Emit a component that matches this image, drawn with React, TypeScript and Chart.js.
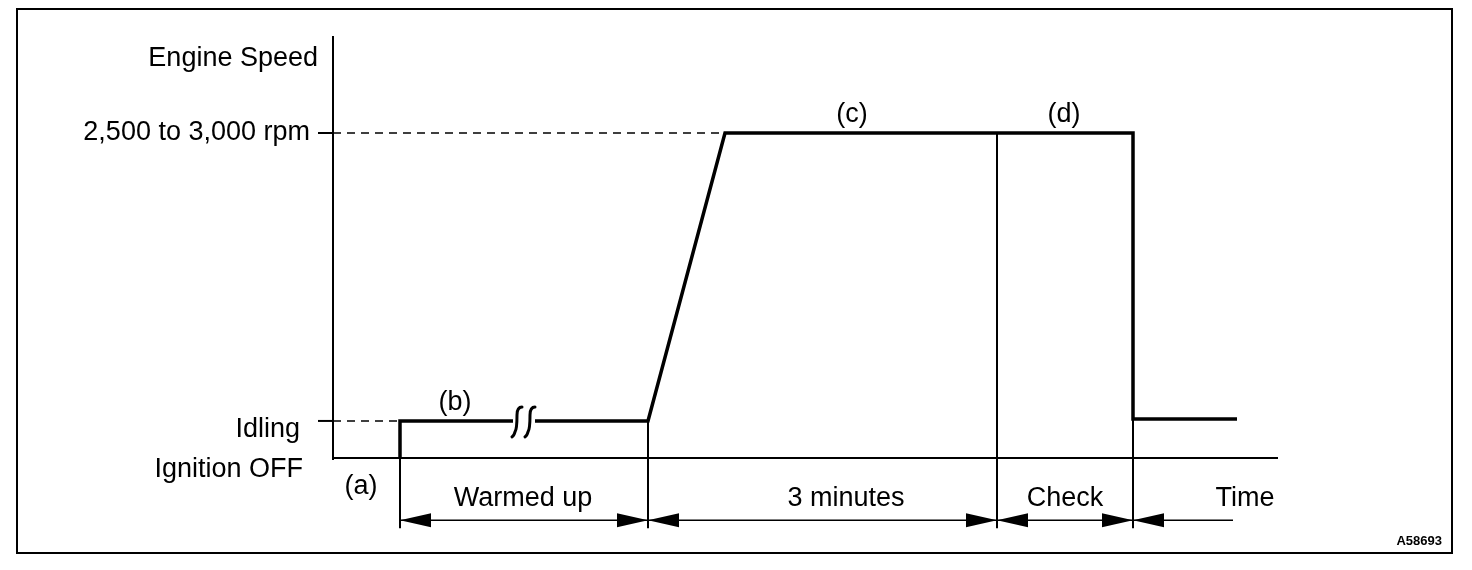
import React, { useEffect, useRef } from 'react';
import { Chart, registerables } from 'chart.js';
Chart.register(...registerables);

// Schematic time axis (arbitrary units) and engine-speed levels (schematic, not to scale)
const LEVEL_OFF = 0;        // Ignition OFF
const LEVEL_IDLE = 1;       // Idling
const LEVEL_HIGH = 8.78;    // 2,500 to 3,000 rpm
const LEVEL_TAIL = 1.05;    // return to idle after check
const AXIS_TOP = 11.4;
const AXIS_END = 94.5;
const DIM_LEVEL = -1.68;    // dimension line level
const EXT_BOTTOM = -1.9;    // bottom of extension lines

// Phase boundaries (time)
const T_IGNITION = 6.7;
const T_RAMP_START = 31.5;
const T_RAMP_END = 39.2;
const T_THREE_MIN_END = 66.4;
const T_CHECK_END = 80;
const T_TRACE_END = 90.4;
const T_DIM_END = 90;
const T_BREAK_START = 18.0;
const T_BREAK_END = 20.2;

// Engine speed trace
const traceTimes = [T_IGNITION, T_IGNITION, T_BREAK_START, T_BREAK_END, T_RAMP_START, T_RAMP_END, T_CHECK_END, T_CHECK_END, T_TRACE_END];
const traceSpeeds = [LEVEL_OFF, LEVEL_IDLE, LEVEL_IDLE, LEVEL_IDLE, LEVEL_IDLE, LEVEL_HIGH, LEVEL_HIGH, LEVEL_TAIL, LEVEL_TAIL];
const traceGapAfter = 2; // gap (break symbol) between index 2 and 3

// Extension lines (time, start level)
const extensionTimes = [T_IGNITION, T_RAMP_START, T_THREE_MIN_END, T_CHECK_END];
const extensionStarts = [LEVEL_OFF, LEVEL_IDLE, LEVEL_HIGH, LEVEL_TAIL];

// Dimension arrows: tip time, direction (-1 = points left, 1 = points right)
const arrowTimes = [T_IGNITION, T_RAMP_START, T_RAMP_START, T_THREE_MIN_END, T_THREE_MIN_END, T_CHECK_END, T_CHECK_END];
const arrowDirs = [-1, 1, -1, 1, -1, 1, -1];

// Period labels
const periodLabels = ['Warmed up', '3 minutes', 'Check', 'Time'];
const periodLabelTimes = [19.0, 51.3, 73.2, 91.2];

// Point labels
const pointLabels = ['(a)', '(b)', '(c)', '(d)'];
const pointLabelTimes = [2.8, 12.2, 51.9, 73.1];
const pointLabelLevels = [-0.78, 1.49, 9.27, 9.27];

// Y-axis labels
const axisLabels = ['Engine Speed', '2,500 to 3,000 rpm', 'Idling', 'Ignition OFF'];
const axisLabelLevels = [10.79, LEVEL_HIGH, 0.77, -0.3];
const axisLabelGaps = [15, 23, 33, 30];

const figureId = 'A58693';

const FONT = '27px "Liberation Sans", Arial, sans-serif';

function buildTrace() {
  const pts: any[] = [];
  traceTimes.forEach((t, i) => {
    pts.push({ x: t, y: traceSpeeds[i] });
    if (i === traceGapAfter) pts.push({ x: (T_BREAK_START + T_BREAK_END) / 2, y: null });
  });
  return pts;
}

const drawPlugin = {
  id: 'diagram',
  afterDatasetsDraw(chart: any) {
    const ctx = chart.ctx;
    const xs = chart.scales.x;
    const ys = chart.scales.y;
    const px = (v: number) => xs.getPixelForValue(v);
    const py = (v: number) => ys.getPixelForValue(v);
    ctx.save();
    ctx.strokeStyle = '#000';
    ctx.fillStyle = '#000';

    // outer frame
    ctx.lineWidth = 2;
    ctx.strokeRect(17, 9, 1435, 544);

    // y axis
    const x0 = px(0);
    ctx.lineWidth = 2;
    ctx.beginPath();
    ctx.moveTo(x0, py(AXIS_TOP));
    ctx.lineTo(x0, py(LEVEL_OFF) + 2);
    ctx.stroke();
    // baseline
    ctx.beginPath();
    ctx.moveTo(x0, py(LEVEL_OFF));
    ctx.lineTo(px(AXIS_END), py(LEVEL_OFF));
    ctx.stroke();

    // tick marks
    [LEVEL_HIGH, LEVEL_IDLE].forEach((lv) => {
      ctx.beginPath();
      ctx.moveTo(x0 - 15, py(lv));
      ctx.lineTo(x0, py(lv));
      ctx.stroke();
    });

    // dashed reference lines
    ctx.setLineDash([8, 6]);
    ctx.lineWidth = 1.5;
    ctx.beginPath();
    ctx.moveTo(x0, py(LEVEL_HIGH));
    ctx.lineTo(px(T_RAMP_END), py(LEVEL_HIGH));
    ctx.moveTo(x0, py(LEVEL_IDLE));
    ctx.lineTo(px(T_IGNITION), py(LEVEL_IDLE));
    ctx.stroke();
    ctx.setLineDash([]);

    // extension lines
    ctx.lineWidth = 2;
    extensionTimes.forEach((t, i) => {
      ctx.beginPath();
      ctx.moveTo(px(t), py(extensionStarts[i]));
      ctx.lineTo(px(t), py(EXT_BOTTOM));
      ctx.stroke();
    });

    // dimension line
    ctx.lineWidth = 1.5;
    ctx.beginPath();
    ctx.moveTo(px(T_IGNITION), py(DIM_LEVEL));
    ctx.lineTo(px(T_DIM_END), py(DIM_LEVEL));
    ctx.stroke();

    // arrowheads
    arrowTimes.forEach((t, i) => {
      const tipX = px(t);
      const yy = py(DIM_LEVEL);
      const d = arrowDirs[i];
      const len = 31;
      ctx.beginPath();
      ctx.moveTo(tipX, yy);
      ctx.lineTo(tipX - d * len, yy - 7);
      ctx.lineTo(tipX - d * len, yy + 7);
      ctx.closePath();
      ctx.fill();
    });

    // break symbol
    ctx.lineWidth = 3;
    ctx.lineCap = 'round';
    const by = py(LEVEL_IDLE);
    const b0 = px(T_BREAK_START);
    const b1 = px(T_BREAK_END);
    [b0 + 3, b1 - 6].forEach((bx) => {
      ctx.beginPath();
      ctx.moveTo(bx + 6, by - 14);
      ctx.quadraticCurveTo(bx + 1, by - 14, bx + 1, by - 6);
      ctx.bezierCurveTo(bx + 1, by + 2, bx + 1, by + 8, bx - 1, by + 11);
      ctx.quadraticCurveTo(bx - 2, by + 15, bx - 4, by + 16);
      ctx.stroke();
    });
    ctx.lineCap = 'butt';

    // texts
    ctx.font = FONT;
    ctx.textBaseline = 'middle';
    ctx.textAlign = 'right';
    axisLabels.forEach((lab, i) => {
      ctx.fillText(lab, x0 - axisLabelGaps[i], py(axisLabelLevels[i]));
    });
    ctx.textAlign = 'center';
    periodLabels.forEach((lab, i) => {
      ctx.fillText(lab, px(periodLabelTimes[i]), py(DIM_LEVEL) - 22);
    });
    pointLabels.forEach((lab, i) => {
      ctx.fillText(lab, px(pointLabelTimes[i]), py(pointLabelLevels[i]));
    });

    ctx.font = 'bold 13px "Liberation Sans", Arial, sans-serif';
    ctx.textAlign = 'right';
    ctx.fillText(figureId, 1442, 541);
    ctx.restore();
  },
};

export default function App() {
  const ref = useRef<HTMLCanvasElement | null>(null);
  useEffect(() => {
    document.body.style.margin = '0';
    const canvas = ref.current;
    if (!canvas) return;
    const chart = new Chart(canvas, {
      type: 'line',
      data: {
        datasets: [
          {
            label: 'Engine speed',
            data: buildTrace(),
            borderColor: '#000',
            borderWidth: 3.5,
            pointRadius: 0,
            spanGaps: false,
            tension: 0,
            fill: false,
          },
        ],
      },
      options: {
        animation: false,
        responsive: false,
        maintainAspectRatio: false,
        events: [],
        layout: { padding: { left: 333, right: 194, top: 36, bottom: 1 } },
        plugins: { legend: { display: false }, tooltip: { enabled: false } },
        scales: {
          x: { type: 'linear', min: 0, max: AXIS_END, display: false },
          y: { type: 'linear', min: -3, max: AXIS_TOP, display: false },
        },
      },
      plugins: [drawPlugin],
    });
    return () => chart.destroy();
  }, []);
  return (
    <div style={{ width: 1472, height: 570, background: '#fff' }}>
      <canvas ref={ref} width={1472} height={570} style={{ display: 'block' }} />
    </div>
  );
}
